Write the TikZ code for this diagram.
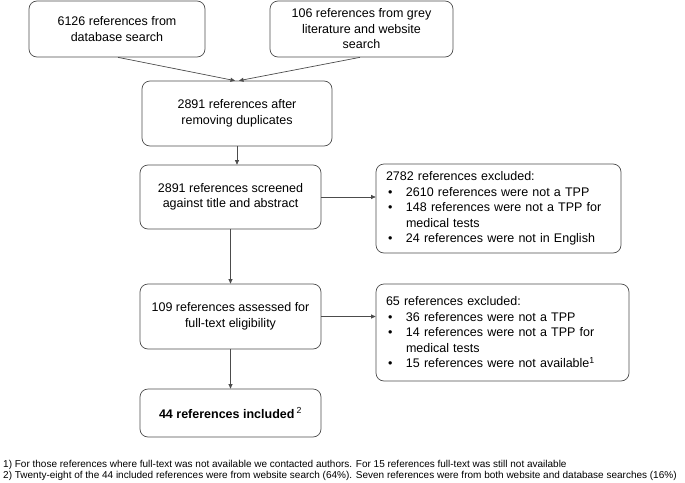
\documentclass[tikz,border=0pt]{standalone}
\usepackage{fontspec}
\setmainfont{Liberation Sans}
\usetikzlibrary{arrows.meta}
\newcommand{\bul}{\hspace*{2pt}\makebox[18pt][l]{\textbullet}}
\newcommand{\ind}{\hspace*{20pt}}
\begin{document}
\begin{tikzpicture}[x=1pt,y=-1pt,
  box/.style={draw=black!70, rounded corners=8pt, line width=0.7pt, align=center,
    font=\fontsize{12.5}{15.5}\selectfont, inner sep=0pt},
  lbox/.style={box, align=left, inner xsep=10pt},
  conn/.style={draw=black!70, line width=0.7pt, -{Triangle[length=4.5pt,width=4pt]}},
  note/.style={anchor=west, inner sep=0pt, font=\fontsize{10}{11}\selectfont}]
\useasboundingbox (0,0) rectangle (685,482);
\node[box, minimum width=176pt, minimum height=56pt] (a) at (117,29) {6126 references from\\database search};
\node[box, minimum width=183pt, minimum height=56pt] (b) at (361.5,29) {106 references from grey\\literature and website\\search};
\node[box, minimum width=190pt, minimum height=65pt] (c) at (237,113.5) {2891 references after\\removing duplicates};
\node[box, minimum width=181pt, minimum height=64pt] (d) at (230.5,197) {2891 references screened\\against title and abstract};
\node[lbox, minimum width=245pt, minimum height=89pt, text width=225pt] (e) at (498.5,208.5) {2782 references excluded:\\
\bul 2610 references were not a TPP\\
\bul 148 references were not a TPP for\\
\ind medical tests\\
\bul 24 references were not in English};
\node[box, minimum width=181pt, minimum height=65pt] (f) at (230.5,316.5) {109 references assessed for\\full-text eligibility};
\node[lbox, minimum width=253pt, minimum height=97pt, text width=233pt] (g) at (502.5,332.5) {65 references excluded:\\
\bul 36 references were not a TPP\\
\bul 14 references were not a TPP for\\
\ind medical tests\\
\bul 15 references were not available\textsuperscript{1}};
\node[box, minimum width=181pt, minimum height=48pt, font=\fontsize{12.5}{15.5}\selectfont\bfseries] (h) at (230.5,413) {44 references included\,\textsuperscript{\mdseries 2}};
\draw[conn] ([xshift=1pt]a.south) -- ([xshift=-2pt]c.north);
\draw[conn] ([xshift=-1.5pt]b.south) -- ([xshift=2pt]c.north);
\draw[conn] (c.south) -- ([xshift=6.5pt]d.north);
\draw[conn] (d.east) -- (e.west |- d.east);
\draw[conn] (d.south) -- (f.north);
\draw[conn] (f.east) -- (g.west |- f.east);
\draw[conn] (f.south) -- (h.north);
\node[note] (n1) at (3,465) {1) For those references where full-text was not available we contacted authors. For 15 references full-text was still not available};
\node[note] (n2) at (3,476) {2) Twenty-eight of the 44 included references were from website search (64\%). Seven references were from both website and database searches (16\%)};
\end{tikzpicture}
\end{document}
